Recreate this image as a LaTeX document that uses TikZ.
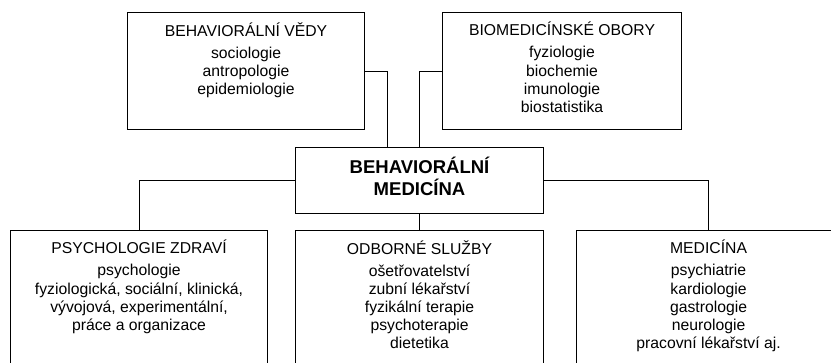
\documentclass[tikz,border=0pt]{standalone}
\usepackage{fontspec}
\setmainfont{Liberation Sans}
\usetikzlibrary{positioning}
\newcommand{\pxu}{0.75pt}
\begin{document}
\begin{tikzpicture}[x=0.75pt, y=-0.75pt,
    box/.style={draw, line width=0.8pt, anchor=north west, inner sep=0pt},
    txt/.style={align=center, inner sep=0pt, font=\fontsize{11.8}{13.65}\selectfont},
    hlav/.style={align=center, inner sep=0pt, font=\bfseries\fontsize{13.9}{16.2}\selectfont},
    spoj/.style={line width=0.8pt}]
    \useasboundingbox (0,0) rectangle (831,362);

    \node[box, minimum width=237*\pxu, minimum height=117*\pxu] (vedy) at (127,12) {};
    \node[box, minimum width=239*\pxu, minimum height=117*\pxu] (biomed) at (442,12) {};
    \node[box, minimum width=248*\pxu, minimum height=66*\pxu] (behmed) at (295,147) {};
    \node[box, minimum width=257*\pxu, minimum height=160*\pxu] (zdravi) at (10,230) {};
    \node[box, minimum width=248*\pxu, minimum height=160*\pxu] (sluzby) at (295,230) {};
    \node[box, minimum width=264*\pxu, minimum height=160*\pxu] (medicina) at (576,230) {};

    \node[txt, below=10*\pxu of vedy.north] (vedytxt) {BEHAVIORÁLNÍ VĚDY\\[2.9pt]
        sociologie\\antropologie\\epidemiologie};
    \node[txt, below=10*\pxu of biomed.north] (biomedtxt) {BIOMEDICÍNSKÉ OBORY\\[2.9pt]
        fyziologie\\biochemie\\imunologie\\biostatistika};
    \node[hlav, yshift=4*\pxu] (behmedtxt) at (behmed.center) {BEHAVIORÁLNÍ\\MEDICÍNA};
    \node[txt, below=10*\pxu of zdravi.north] (zdravitxt) {PSYCHOLOGIE ZDRAVÍ\\[2.9pt]
        psychologie\\fyziologická, sociální, klinická,\\vývojová, experimentální,\\práce a organizace};
    \node[txt, below=10*\pxu of sluzby.north] (sluzbytxt) {ODBORNÉ SLUŽBY\\[2.9pt]
        ošetřovatelství\\zubní lékařství\\fyzikální terapie\\psychoterapie\\dietetika};
    \node[txt, below=10*\pxu of medicina.north] (medicinatxt) {MEDICÍNA\\[2.9pt]
        psychiatrie\\kardiologie\\gastrologie\\neurologie\\pracovní lékařství aj.};

    \draw[spoj] (vedy.east) -| ([xshift=-32*\pxu]behmed.north);
    \draw[spoj] (biomed.west) -| (behmed.north);
    \draw[spoj] (behmed.west) -| (zdravi.north);
    \draw[spoj] (behmed.south) -- (sluzby.north);
    \draw[spoj] (behmed.east) -| (medicina.north);
\end{tikzpicture}
\end{document}
